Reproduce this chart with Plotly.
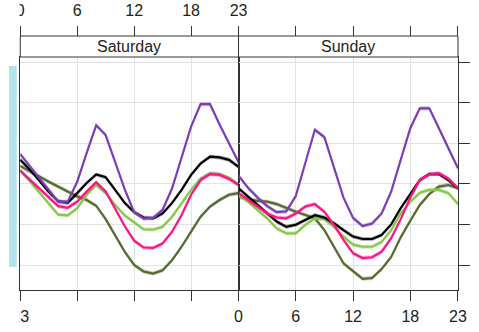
import plotly.graph_objects as go

W, H = 479, 332
hours = list(range(24))
days = ["Saturday", "Sunday"]
tick_vals = [0, 6, 12, 18, 23]
tick_text = ["0", "6", "12", "18", "23"]
prev_day_text = ["23", "", "", "", ""]  # last-hour label of the (cut off) panel to the left
y_ticks = [10, 20, 30, 40, 50, 60]

# series values (hour 0..23)
purple_sat = [37.3, 34.3, 31.4, 28.3, 25.6, 25.6, 30.5, 37.6, 44.4, 42.0, 35.2, 28.7,
              23.0, 21.4, 21.6, 23.6, 28.9, 36.3, 44.1, 49.6, 49.6, 44.6, 40.0, 35.3]
black_sat = [35.9, 33.5, 30.8, 28.0, 25.7, 25.3, 27.7, 30.2, 32.3, 31.6, 28.5, 25.3,
             23.0, 21.7, 21.5, 22.7, 25.3, 28.5, 32.2, 35.0, 36.7, 36.5, 35.9, 34.2]
pink_sat = [33.2, 31.0, 28.8, 26.7, 24.5, 24.1, 25.6, 28.1, 30.4, 28.1, 24.0, 19.6,
            16.0, 14.3, 14.2, 15.3, 18.2, 22.3, 27.3, 30.9, 32.4, 32.2, 31.2, 29.7]
light_sat = [33.4, 30.6, 27.9, 25.1, 22.4, 22.2, 24.0, 27.3, 29.7, 27.7, 24.8, 22.2,
             20.5, 18.8, 18.7, 19.4, 21.9, 25.3, 28.5, 31.3, 32.6, 32.4, 31.5, 29.9]
dark_sat = [34.4, 33.0, 31.8, 30.5, 29.3, 28.1, 26.9, 26.0, 24.6, 21.3, 17.4, 13.3,
            10.0, 8.4, 7.9, 8.7, 11.2, 14.5, 18.2, 21.9, 24.4, 26.0, 27.3, 27.7]

purple_sun = [32.0, 29.0, 26.6, 24.5, 23.0, 23.2, 27.0, 35.2, 43.3, 41.5, 33.8, 26.6,
              21.6, 19.6, 20.2, 22.7, 28.1, 35.9, 43.7, 48.6, 48.6, 43.7, 38.7, 33.8]
black_sun = [28.9, 26.8, 24.8, 22.7, 20.7, 19.4, 19.9, 21.1, 22.3, 21.7, 20.3, 18.6,
             17.0, 16.4, 16.4, 17.4, 20.0, 24.0, 27.5, 30.9, 32.4, 32.4, 30.9, 28.9]
pink_sun = [27.7, 26.0, 24.4, 22.7, 21.7, 21.5, 22.7, 24.4, 25.0, 23.1, 19.9, 16.2,
            12.9, 11.7, 11.9, 13.3, 16.6, 21.3, 26.6, 30.9, 32.3, 32.6, 31.3, 28.9]
light_sun = [27.2, 25.6, 23.5, 21.5, 19.0, 17.8, 17.8, 19.9, 21.5, 21.3, 19.4, 17.0,
             15.0, 14.5, 14.5, 15.7, 18.6, 22.7, 25.5, 27.8, 28.5, 28.5, 27.7, 25.0]
dark_sun = [26.8, 26.2, 25.8, 25.6, 25.0, 24.0, 23.1, 22.3, 21.5, 18.6, 14.5, 10.4,
            8.5, 6.6, 6.8, 9.0, 12.0, 16.8, 20.9, 24.8, 27.5, 29.3, 29.7, 28.9]

colors = {
    "dark": ("#556B2F", "rgba(85,107,47,0.35)"),
    "light": ("#86C84A", "rgba(134,200,74,0.35)"),
    "black": ("#000000", "rgba(0,0,0,0.3)"),
    "pink": ("#FF1486", "rgba(255,20,134,0.35)"),
    "purple": ("#7B3FB5", "rgba(123,63,181,0.35)"),
}
series = {
    "Saturday": {"dark": dark_sat, "light": light_sat, "black": black_sat,
                 "pink": pink_sat, "purple": purple_sat},
    "Sunday": {"dark": dark_sun, "light": light_sun, "black": black_sun,
               "pink": pink_sun, "purple": purple_sun},
}
band = 0.5

def px(x):
    return x / W

def py(y):
    return 1 - y / H

FONT = "Liberation Sans, Arial, sans-serif"
x_left, x_mid, x_right = 11.7, 238.5, 466.5
y_top, y_bot = 57, 290
strip_top = 36
yr = [60 - (y_bot - 62) / 4.06, 60 + (62 - y_top) / 4.06]

fig = go.Figure()
for i, day in enumerate(days):
    xa = "x" if i == 0 else "x2"
    ya = "y" if i == 0 else "y2"
    for key in ["dark", "light", "black", "pink", "purple"]:
        vals = series[day][key]
        lc, fc = colors[key]
        upper = [v + band for v in vals]
        lower = [v - band for v in vals]
        fig.add_trace(go.Scatter(x=hours + hours[::-1], y=upper + lower[::-1],
                                 fill="toself", fillcolor=fc, line=dict(width=0),
                                 mode="lines", xaxis=xa, yaxis=ya,
                                 showlegend=False, hoverinfo="skip"))
        fig.add_trace(go.Scatter(x=hours, y=vals, mode="lines",
                                 line=dict(color=lc, width=2.2),
                                 xaxis=xa, yaxis=ya, showlegend=False))

# dummy traces for top axes
fig.add_trace(go.Scatter(x=[None], y=[None], xaxis="x3", yaxis="y", showlegend=False))
fig.add_trace(go.Scatter(x=[None], y=[None], xaxis="x4", yaxis="y2", showlegend=False))

axcol = "#333333"
grid = "#E2E2E2"
tfont = dict(family=FONT, size=16, color="#222")
common_x = dict(range=[0, 23], tickvals=tick_vals, showgrid=True,
                gridcolor=grid, gridwidth=1, zeroline=False, showline=True, mirror=True,
                linecolor=axcol, linewidth=1, ticks="outside", ticklen=10,
                tickcolor=axcol, tickwidth=1, tickfont=tfont, ticklabelstandoff=2,
                ticklabeloverflow="allow")
common_y = dict(range=yr, tickvals=y_ticks, showgrid=True, gridcolor=grid, gridwidth=1,
                zeroline=False, showline=True, mirror=True, linecolor=axcol, linewidth=1,
                showticklabels=False)
ydom = [py(y_bot), py(y_top)]
fig.update_layout(
    width=W, height=H, margin=dict(l=0, r=0, t=0, b=0),
    paper_bgcolor="white", plot_bgcolor="white",
    xaxis=dict(domain=[px(x_left), px(x_mid)], anchor="y", ticktext=prev_day_text, **common_x),
    xaxis2=dict(domain=[px(x_mid), px(x_right)], anchor="y2", ticktext=tick_text, **common_x),
    xaxis3=dict(overlaying="x", anchor="free", position=py(strip_top), side="top",
                range=[0, 23], tickvals=tick_vals, ticktext=tick_text, showgrid=False,
                zeroline=False, showline=False, ticks="outside", ticklen=10,
                tickcolor=axcol, ticklabelstandoff=4, tickfont=tfont,
                ticklabeloverflow="allow"),
    xaxis4=dict(overlaying="x2", anchor="free", position=py(strip_top), side="top",
                range=[0, 23], tickvals=tick_vals, showticklabels=False, showgrid=False,
                zeroline=False, showline=False, ticks="outside", ticklen=10,
                tickcolor=axcol),
    yaxis=dict(domain=ydom, anchor="x", ticks="", **common_y),
    yaxis2=dict(domain=ydom, anchor="x2", side="right", ticks="outside", ticklen=11,
                tickcolor=axcol, **common_y),
)

shapes = []
annotations = []
for i, day in enumerate(days):
    x0, x1 = (x_left, x_mid) if i == 0 else (x_mid, x_right)
    shapes.append(dict(type="rect", xref="paper", yref="paper", x0=px(x0), x1=px(x1),
                       y0=py(y_top), y1=py(strip_top), fillcolor="white",
                       line=dict(color=axcol, width=1), layer="above"))
    annotations.append(dict(text=day, xref="paper", yref="paper", x=px((x0 + x1) / 2),
                            y=py((y_top + strip_top) / 2), showarrow=False,
                            font=tfont, xanchor="center", yanchor="middle"))
# crop edge at the left: mask what lies left of the first panel border
shapes.append(dict(type="rect", xref="paper", yref="paper", x0=0, x1=px(11),
                   y0=py(25), y1=1, fillcolor="white", line=dict(width=0), layer="above"))
shapes.append(dict(type="rect", xref="paper", yref="paper", x0=0, x1=px(11),
                   y0=0, y1=py(301), fillcolor="white", line=dict(width=0), layer="above"))
# light blue box at the left edge
shapes.append(dict(type="rect", xref="paper", yref="paper", x0=0, x1=px(8),
                   y0=py(267), y1=py(66), fillcolor="#B2E4F0", line=dict(width=0),
                   layer="above"))
fig.update_layout(shapes=shapes, annotations=annotations)

fig.write_html("out.html")
